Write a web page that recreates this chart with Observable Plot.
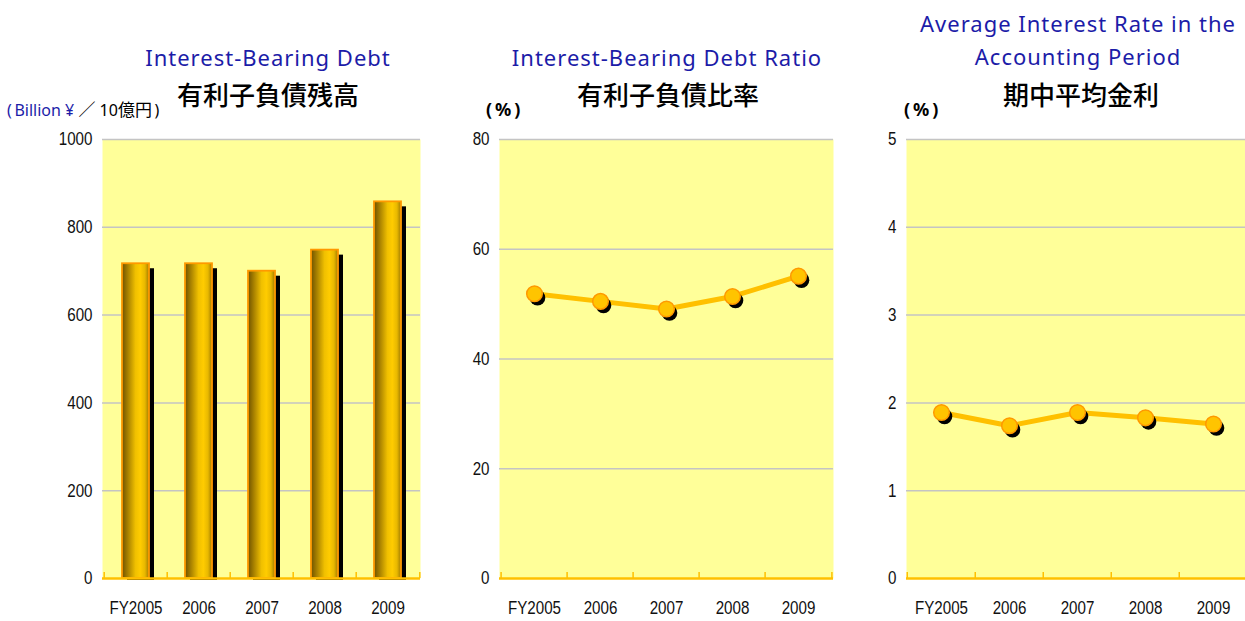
<!DOCTYPE html>
<html><head><meta charset="utf-8">
<script src="https://cdn.jsdelivr.net/npm/d3@7"></script>
<script src="https://cdn.jsdelivr.net/npm/@observablehq/plot@0.6"></script>
<style>
body{margin:0;background:#fff;}
#wrap{position:relative;width:1245px;height:621px;overflow:hidden;background:#fff;}
.t{position:absolute;white-space:nowrap;text-align:center;width:420px;}
.en{font-family:"Noto Sans",sans-serif;font-size:22px;line-height:22px;color:#1C1CA8;letter-spacing:1px;}
.jp{font-family:"Noto Sans CJK JP",sans-serif;font-size:26px;line-height:26px;color:#000;font-weight:500;}
.unit{position:absolute;white-space:nowrap;font-family:"Noto Sans","Noto Sans CJK JP",sans-serif;font-size:16px;line-height:16px;color:#000;}
.unit .cjk{font-family:"Noto Sans CJK JP",sans-serif;font-size:17px;}
.pct{position:absolute;white-space:nowrap;font-family:"Noto Sans",sans-serif;font-size:18px;line-height:18px;color:#000;font-weight:700;letter-spacing:3px;}
.panel{position:absolute;top:125px;}
.panel svg{max-width:none !important;}
</style></head><body><div id="wrap">
<div class="t en" style="left:58px;top:46px;">Interest-Bearing Debt</div>
<div class="t jp" style="left:58px;top:81px;">有利子負債残高</div>
<div class="unit" style="left:7px;top:101px;"><span style="color:#1C1CA8">(&thinsp;Billion ¥</span>&nbsp;<span class="cjk">／</span>&nbsp;10<span class="cjk">億円</span>&thinsp;)</div>

<div class="t en" style="left:457px;top:46px;">Interest-Bearing Debt Ratio</div>
<div class="t jp" style="left:458px;top:81px;">有利子負債比率</div>
<div class="pct" style="left:486px;top:100px;">(%)</div>

<div class="t en" style="left:868px;top:12px;">Average Interest Rate in the</div>
<div class="t en" style="left:868px;top:45px;">Accounting Period</div>
<div class="t jp" style="left:871px;top:81px;">期中平均金利</div>
<div class="pct" style="left:904px;top:100px;">(%)</div>

<div id="p1" class="panel" style="left:0px;width:430px;"></div>
<div id="p2" class="panel" style="left:430px;width:415px;"></div>
<div id="p3" class="panel" style="left:845px;width:410px;"></div>
</div>
<script>
const years = ["FY2005", "2006", "2007", "2008", "2009"];
const debt = [717, 717, 700, 748, 858];
const ratio = [51.9, 50.5, 49.1, 51.4, 55.1];
const rate = [1.89, 1.74, 1.89, 1.83, 1.76];
const debtTicks = [0, 200, 400, 600, 800, 1000];
const ratioTicks = [0, 20, 40, 60, 80];
const rateTicks = [0, 1, 2, 3, 4, 5];

const H = 496, MT = 14, MB = 43;

function gradientDefs() {
  const defs = d3.create("svg:defs");
  const g = defs.append("linearGradient").attr("id", "goldBar")
    .attr("x1", "0%").attr("x2", "100%").attr("y1", "0%").attr("y2", "0%");
  [["0%", "#6E5200"], ["25%", "#B08800"], ["50%", "#F0C000"], ["68%", "#FFCC00"], ["85%", "#E8B800"], ["100%", "#A07A00"]]
    .forEach(([o, c]) => g.append("stop").attr("offset", o).attr("stop-color", c));
  return defs.node();
}

function panel(el, {width, ml, mr, domain, ticks, xScale, marks}) {
  const step = (width - ml - mr) / years.length;
  const y0 = domain[0];
  const chart = Plot.plot({
    width, height: H, marginLeft: ml, marginRight: mr, marginTop: MT, marginBottom: MB,
    style: {fontFamily: '"Liberation Sans",Arial,sans-serif', fontSize: "18.5px", color: "#111", background: "transparent", overflow: "visible"},
    x: {domain: years, label: null, ...xScale},
    y: {domain, ticks, label: null},
    marks: [
      gradientDefs,
      Plot.frame({fill: "#FFFF99", stroke: "none"}),
      Plot.gridY(ticks.filter(t => t > y0), {stroke: "#c4c4c4", strokeOpacity: 1, strokeWidth: 1.5}),
      ...marks,
      Plot.ruleY([y0], {stroke: "#FFC000", strokeWidth: 2.5}),
      Plot.ruleX(years, {x: d => d, y1: y0, y2: y0, insetBottom: 6, dx: -step / 2, stroke: "#FFC000", strokeWidth: 1.5}),
      Plot.ruleX([years[years.length - 1]], {x: d => d, y1: y0, y2: y0, insetBottom: 6, dx: step / 2, stroke: "#FFC000", strokeWidth: 1.5}),
      Plot.axisY({ticks, tickSize: 0, tickPadding: 10, label: null, tickFormat: d => String(d)}),
      Plot.axisX({tickSize: 0, tickPadding: 22, label: null})
    ]
  });
  // condense tick labels horizontally (narrow gothic look)
  d3.select(chart).selectAll('g[aria-label="x-axis tick label"] text, g[aria-label="y-axis tick label"] text')
    .each(function () {
      const t = this.getAttribute("transform") || "";
      this.setAttribute("transform", t + " scale(0.82,1)");
    });
  document.getElementById(el).appendChild(chart);
}

const debtData = years.map((year, i) => ({year, value: debt[i]}));
const ratioData = years.map((year, i) => ({year, value: ratio[i]}));
const rateData = years.map((year, i) => ({year, value: rate[i]}));

panel("p1", {
  width: 430, ml: 102, mr: 10, domain: [0, 1000], ticks: debtTicks,
  xScale: {type: "band", paddingInner: 0.575, paddingOuter: 0.2875},
  marks: [
    Plot.barY(debtData, {x: "year", y: "value", fill: "black", dx: 5, dy: 2, insetTop: 3}),
    Plot.barY(debtData, {x: "year", y: "value", fill: "url(#goldBar)", stroke: "#FF9900", strokeWidth: 1.8})
  ]
});

function lineMarks(data) {
  return [
    Plot.line(data, {x: "year", y: "value", stroke: "#FFC000", strokeWidth: 5}),
    Plot.dot(data, {x: "year", y: "value", r: 7.8, fill: "black", stroke: "none", dx: 3, dy: 4}),
    Plot.dot(data, {x: "year", y: "value", r: 7.8, fill: "#FFC400", stroke: "#FF9900", strokeWidth: 1.5})
  ];
}

panel("p2", {
  width: 415, ml: 69, mr: 12, domain: [0, 80], ticks: ratioTicks,
  xScale: {type: "point", padding: 0.5},
  marks: lineMarks(ratioData)
});

panel("p3", {
  width: 410, ml: 61, mr: 6.5, domain: [0, 5], ticks: rateTicks,
  xScale: {type: "point", padding: 0.5},
  marks: lineMarks(rateData)
});
</script>
</body></html>
